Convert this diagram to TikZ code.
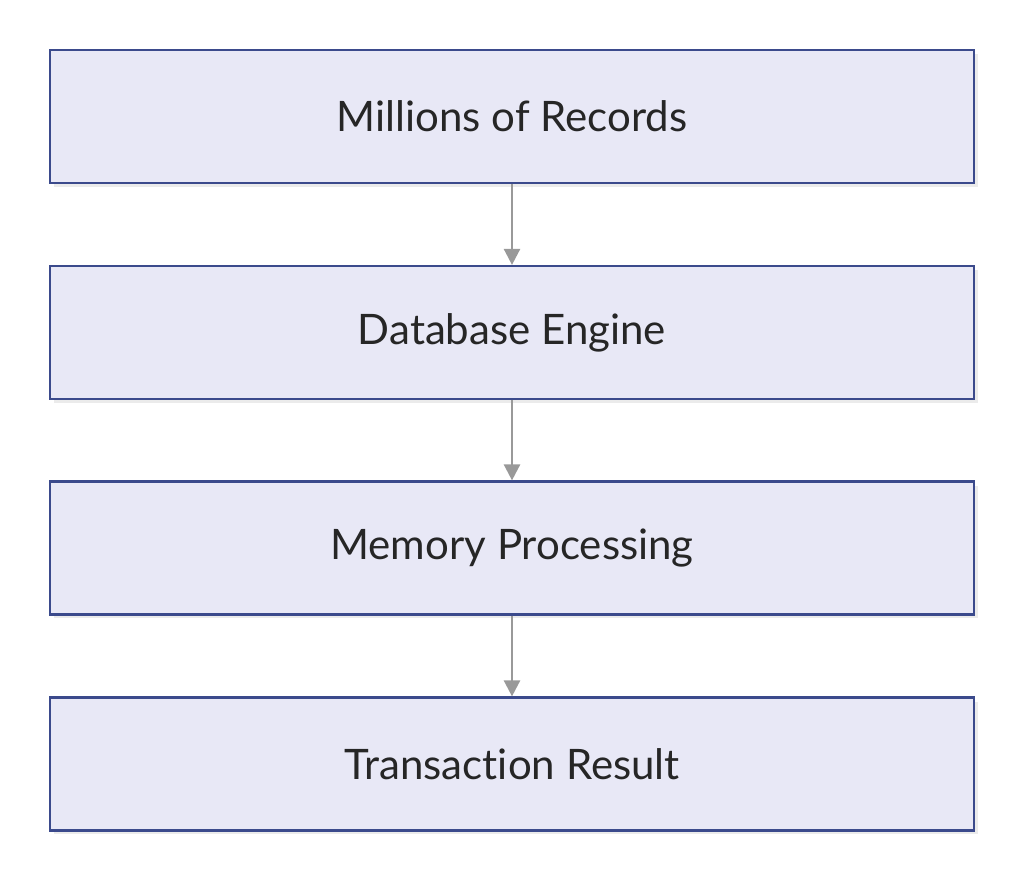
\documentclass[tikz,border=0pt]{standalone}
\usepackage{fontspec}
\setmainfont[Ligatures={NoCommon}]{Lato}
\usetikzlibrary{arrows.meta}
\definecolor{boxfill}{HTML}{E8E8F6}
\definecolor{boxline}{HTML}{3B4A8C}
\definecolor{arrowc}{HTML}{999999}
\begin{document}
\begin{tikzpicture}[x=1pt,y=-1pt,
  flowbox/.style={draw=boxline,line width=2.2pt,fill=boxfill,minimum width=924pt,minimum height=133pt,inner sep=0pt,font=\fontsize{42}{48}\selectfont,text=black!85},
  flowarrow/.style={draw=arrowc,line width=2.5pt,-{Triangle[length=16pt,width=16pt]}}]
\useasboundingbox (0,0) rectangle (1026,889);
\fill[black!8] (54,54) rectangle (978,187);
\fill[black!8] (54,270) rectangle (978,403);
\fill[black!8] (54,486) rectangle (978,618);
\fill[black!8] (54,702) rectangle (978,834);
\node[flowbox] (a) at (512,116.5) {Millions of Records};
\node[flowbox] (b) at (512,332.5) {Database Engine};
\node[flowbox] (c) at (512,548) {Memory Processing};
\node[flowbox] (d) at (512,764) {Transaction Result};
\draw[flowarrow] (a) -- (b);
\draw[flowarrow] (b) -- (c);
\draw[flowarrow] (c) -- (d);
\end{tikzpicture}
\end{document}
